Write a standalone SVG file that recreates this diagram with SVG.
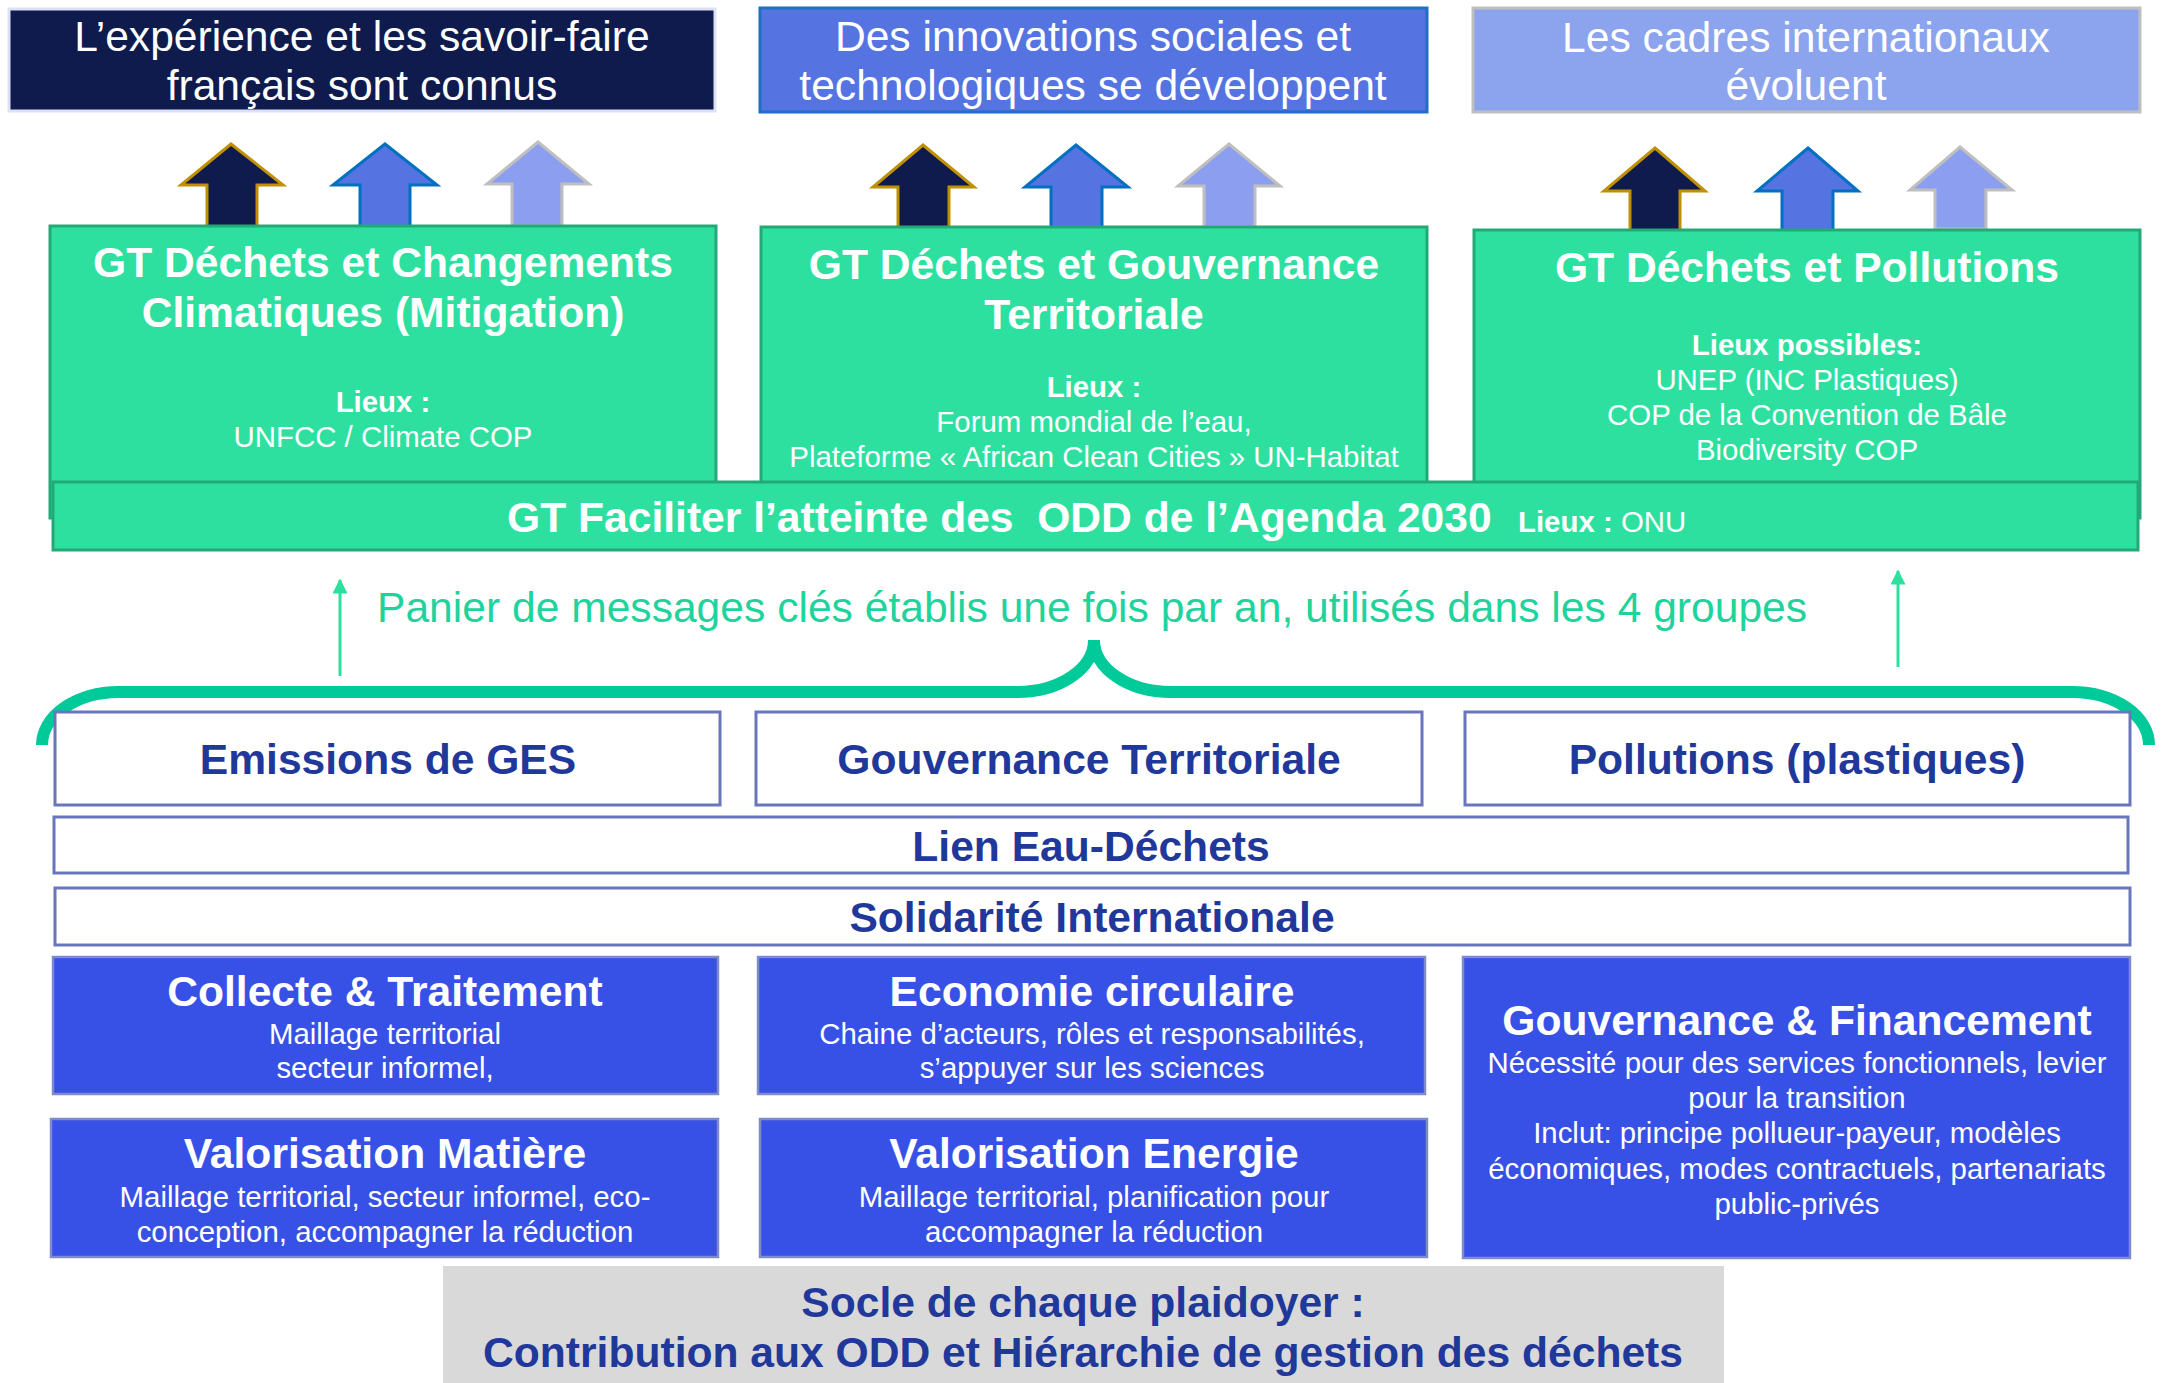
<svg xmlns="http://www.w3.org/2000/svg" width="2162" height="1383" viewBox="0 0 2162 1383">
<style>
text{font-family:"Liberation Sans",Arial,sans-serif;}
.big{font-size:42.6px;}
.sm{font-size:29.4px;}
.b{font-weight:bold;}
.w{fill:#ffffff;}
.db{fill:#1F3899;}
.mid{text-anchor:middle;}
.gt{fill:#2EE0A0;stroke:#22A978;stroke-width:3;}
.wb{fill:#ffffff;stroke:#6A76BC;stroke-width:3;}
.bb{fill:#3751E6;stroke:#7F8CC8;stroke-width:2.5;}
.a1{fill:#0F1B4D;stroke:#BF9000;stroke-width:3;}
.a2{fill:#5574E2;stroke:#0070C0;stroke-width:3;}
.a3{fill:#8C9EF0;stroke:#BFBFBF;stroke-width:3;}
</style>
<defs>
<marker id="ah" viewBox="0 0 10 10" refX="9" refY="5" markerWidth="5.5" markerHeight="5" orient="auto" markerUnits="strokeWidth">
<path d="M0,0 L10,5 L0,10 Z" fill="#2EE0A0"/>
</marker>
</defs>
<rect width="2162" height="1383" fill="#ffffff"/>

<g id="top1">
<rect x="9" y="9" width="706" height="102" fill="#0F1B4D" stroke="#DCE1F5" stroke-width="3"/>
<text class="big w mid" x="362" y="51">L’expérience et les savoir-faire</text>
<text class="big w mid" x="362" y="100">français sont connus</text>
</g>
<g id="top2">
<rect x="760" y="8" width="667" height="104" fill="#5574E2" stroke="#1F6FC5" stroke-width="3"/>
<text class="big w mid" x="1093" y="51">Des innovations sociales et</text>
<text class="big w mid" x="1093" y="100">technologiques se développent</text>
</g>
<g id="top3">
<rect x="1473" y="8" width="667" height="104" fill="#8CA3EE" stroke="#BFBFBF" stroke-width="3"/>
<text class="big w mid" x="1806" y="52">Les cadres internationaux</text>
<text class="big w mid" x="1806" y="100">évoluent</text>
</g>

<g id="arrows-up">
<path class="a1" d="M231,144 L283,185 L257,185 L257,227 L207,227 L207,185 L181,185 Z"/>
<path class="a2" d="M385,144 L437,185 L410,185 L410,227 L360,227 L360,185 L333,185 Z"/>
<path class="a3" d="M538,142 L589,184 L562,184 L562,226 L512,226 L512,184 L487,184 Z"/>
<path class="a1" d="M923,145 L974,187 L949,187 L949,228 L898,228 L898,187 L873,187 Z"/>
<path class="a2" d="M1076,145 L1128,187 L1102,187 L1102,228 L1051,228 L1051,187 L1025,187 Z"/>
<path class="a3" d="M1229,144 L1280,186 L1255,186 L1255,227 L1204,227 L1204,186 L1178,186 Z"/>
<path class="a1" d="M1655,148 L1705,191 L1680,191 L1680,231 L1630,231 L1630,191 L1604,191 Z"/>
<path class="a2" d="M1808,148 L1858,191 L1833,191 L1833,231 L1782,231 L1782,191 L1757,191 Z"/>
<path class="a3" d="M1960,147 L2012,190 L1986,190 L1986,229 L1935,229 L1935,190 L1910,190 Z"/>
</g>

<g id="gt1">
<rect class="gt" x="50" y="226" width="666" height="292"/>
<text class="big b w mid" x="383" y="277">GT Déchets et Changements</text>
<text class="big b w mid" x="383" y="327">Climatiques (Mitigation)</text>
<text class="sm b w mid" x="383" y="412">Lieux :</text>
<text class="sm w mid" x="383" y="447">UNFCC / Climate COP</text>
</g>
<g id="gt2">
<rect class="gt" x="761" y="227" width="666" height="291"/>
<text class="big b w mid" x="1094" y="279">GT Déchets et Gouvernance</text>
<text class="big b w mid" x="1094" y="329">Territoriale</text>
<text class="sm b w mid" x="1094" y="397">Lieux :</text>
<text class="sm w mid" x="1094" y="432">Forum mondial de l’eau,</text>
<text class="sm w mid" x="1094" y="467">Plateforme « African Clean Cities » UN-Habitat</text>
</g>
<g id="gt3">
<rect class="gt" x="1474" y="230" width="666" height="288"/>
<text class="big b w mid" x="1807" y="282">GT Déchets et Pollutions</text>
<text class="sm b w mid" x="1807" y="355">Lieux possibles:</text>
<text class="sm w mid" x="1807" y="390">UNEP (INC Plastiques)</text>
<text class="sm w mid" x="1807" y="425">COP de la Convention de Bâle</text>
<text class="sm w mid" x="1807" y="460">Biodiversity COP</text>
</g>
<g id="gt-odd">
<rect class="gt" x="53" y="482" width="2085" height="68"/>
<text class="big b w" x="507" y="532" style="white-space:pre">GT Faciliter l’atteinte des  ODD de l’Agenda 2030</text>
<text class="sm w" x="1518" y="532"><tspan class="b">Lieux :</tspan> ONU</text>
</g>

<g id="connectors">
<line x1="340" y1="676" x2="340" y2="580" stroke="#2EE0A0" stroke-width="3" marker-end="url(#ah)"/>
<line x1="1898" y1="667" x2="1898" y2="571" stroke="#2EE0A0" stroke-width="3" marker-end="url(#ah)"/>
<path d="M42,745 A77,53 0 0 1 119,692 L1017,692 A77,52 0 0 0 1094,640 A77,52 0 0 0 1171,692 L2072,692 A77,53 0 0 1 2149,745" fill="none" stroke="#00C99A" stroke-width="12"/>
</g>

<g id="panier">
<text class="big" x="377" y="622" fill="#1FD39C">Panier de messages clés établis une fois par an, utilisés dans les 4 groupes</text>
</g>

<g id="emissions">
<rect class="wb" x="55" y="712" width="665" height="93"/>
<text class="big b db mid" x="388" y="774">Emissions de GES</text>
</g>
<g id="gouv-terr">
<rect class="wb" x="756" y="712" width="666" height="93"/>
<text class="big b db mid" x="1089" y="774">Gouvernance Territoriale</text>
</g>
<g id="pollutions">
<rect class="wb" x="1465" y="712" width="665" height="93"/>
<text class="big b db mid" x="1797" y="774">Pollutions (plastiques)</text>
</g>
<g id="lien">
<rect class="wb" x="54" y="817" width="2074" height="56"/>
<text class="big b db mid" x="1091" y="861">Lien Eau-Déchets</text>
</g>
<g id="solidarite">
<rect class="wb" x="55" y="888" width="2075" height="57"/>
<text class="big b db mid" x="1092" y="932">Solidarité Internationale</text>
</g>

<g id="collecte">
<rect class="bb" x="53" y="957" width="665" height="137"/>
<text class="big b w mid" x="385" y="1006">Collecte &amp; Traitement</text>
<text class="sm w mid" x="385" y="1044">Maillage territorial</text>
<text class="sm w mid" x="385" y="1078">secteur informel,</text>
</g>
<g id="economie">
<rect class="bb" x="758" y="957" width="667" height="137"/>
<text class="big b w mid" x="1092" y="1006">Economie circulaire</text>
<text class="sm w mid" x="1092" y="1044">Chaine d’acteurs, rôles et responsabilités,</text>
<text class="sm w mid" x="1092" y="1078">s’appuyer sur les sciences</text>
</g>
<g id="val-matiere">
<rect class="bb" x="51" y="1119" width="667" height="138"/>
<text class="big b w mid" x="385" y="1168">Valorisation Matière</text>
<text class="sm w mid" x="385" y="1207">Maillage territorial, secteur informel, eco-</text>
<text class="sm w mid" x="385" y="1242">conception, accompagner la réduction</text>
</g>
<g id="val-energie">
<rect class="bb" x="760" y="1119" width="667" height="138"/>
<text class="big b w mid" x="1094" y="1168">Valorisation Energie</text>
<text class="sm w mid" x="1094" y="1207">Maillage territorial, planification pour</text>
<text class="sm w mid" x="1094" y="1242">accompagner la réduction</text>
</g>
<g id="gouv-fin">
<rect class="bb" x="1463" y="957" width="667" height="301"/>
<text class="big b w mid" x="1797" y="1035">Gouvernance &amp; Financement</text>
<text class="sm w mid" x="1797" y="1073">Nécessité pour des services fonctionnels, levier</text>
<text class="sm w mid" x="1797" y="1108">pour la transition</text>
<text class="sm w mid" x="1797" y="1143">Inclut: principe pollueur-payeur, modèles</text>
<text class="sm w mid" x="1797" y="1179">économiques, modes contractuels, partenariats</text>
<text class="sm w mid" x="1797" y="1214">public-privés</text>
</g>

<g id="socle">
<rect x="443" y="1266" width="1281" height="117" fill="#D9D9D9"/>
<text class="big b db mid" x="1083" y="1317">Socle de chaque plaidoyer :</text>
<text class="big b db mid" x="1083" y="1367">Contribution aux ODD et Hiérarchie de gestion des déchets</text>
</g>
</svg>
